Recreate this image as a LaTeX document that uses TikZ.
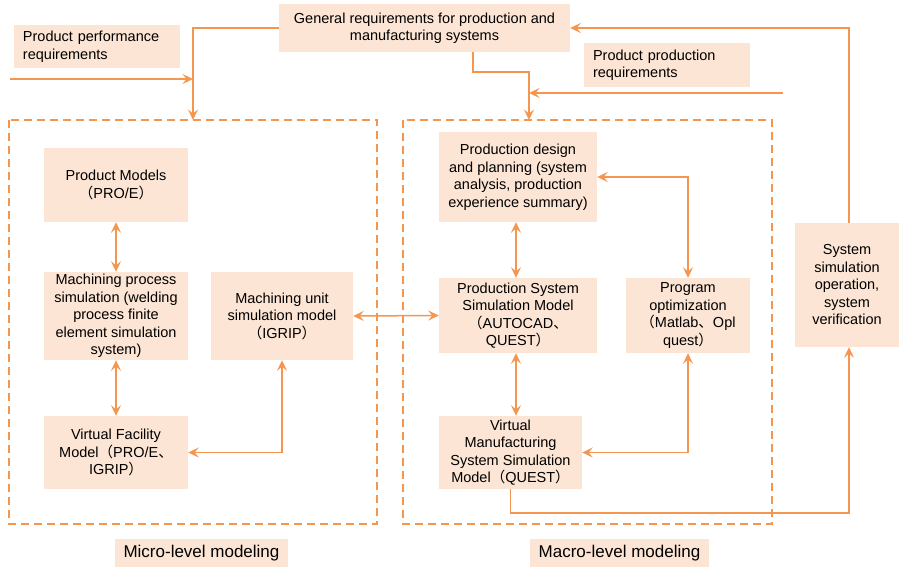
\documentclass[tikz,border=0pt]{standalone}
\usepackage{fontspec}
\setmainfont{Liberation Sans}
\newfontfamily\cjk{Noto Sans CJK SC}
\newcommand{\lp}{{\cjk （}}
\newcommand{\rp}{{\cjk ）}}
\newcommand{\dun}{{\cjk 、}}
\usetikzlibrary{arrows.meta}
\definecolor{lineor}{RGB}{245,150,80}
\definecolor{boxfill}{RGB}{252,229,212}
\tikzset{
  box/.style={fill=boxfill, inner sep=0pt, align=center, font=\fontsize{14.5}{17.5}\selectfont},
  lbox/.style={fill=boxfill, inner xsep=9pt, inner ysep=0pt, align=left, font=\fontsize{14.5}{17.5}\selectfont},
  labbox/.style={fill=boxfill, inner sep=0pt, align=center, font=\fontsize{17}{20}\selectfont},
  tip/.tip={Stealth[length=10.5pt,width=10pt,inset=4pt]},
  conn/.style={draw=lineor, line width=1.5pt, arrows={-tip}},
  biconn/.style={draw=lineor, line width=1.5pt, arrows={tip-tip}},
  dbox/.style={draw=lineor, line width=1.6pt, dash pattern=on 8pt off 5pt}
}
\begin{document}
\begin{tikzpicture}[x=1pt,y=-1pt]
\useasboundingbox (0,0) rectangle (899,568);
% dashed groups
\draw[dbox] (9,120) rectangle (377,524);
\draw[dbox] (403,120) rectangle (772,524);
% top boxes
\node[box, minimum width=291pt, minimum height=48pt] (gen) at (424.5,28) {General requirements for production and\\manufacturing systems};
\node[lbox, text width=148pt, minimum height=43pt] (perf) at (97,46.5) {Product performance\\requirements};
\node[lbox, text width=148pt, minimum height=44pt] (preq) at (667,65) {Product production\\requirements};
% left group
\node[box, minimum width=144pt, minimum height=74pt] (pm) at (116,185) {Product Models\\\lp PRO/E\rp};
\node[box, minimum width=144pt, minimum height=88pt] (mps) at (116,316) {Machining process\\simulation (welding\\process finite\\element simulation\\system)};
\node[box, minimum width=142pt, minimum height=88pt] (mu) at (282,316) {Machining unit\\simulation model\\\lp IGRIP\rp};
\node[box, minimum width=144pt, minimum height=73pt] (vf) at (116,452.5) {Virtual Facility\\Model\lp PRO/E\dun\\IGRIP\rp};
% right group
\node[box, minimum width=158pt, minimum height=90pt] (pd) at (518,177) {Production design\\and planning (system\\analysis, production\\experience summary)};
\node[box, minimum width=158pt, minimum height=75pt] (pss) at (518,315.5) {Production System\\Simulation Model\\\lp AUTOCAD\dun\\QUEST\rp};
\node[box, minimum width=124pt, minimum height=75pt] (po) at (688,315.5) {Program\\optimization\\\lp Matlab\dun Opl\\quest\rp};
\node[box, minimum width=143pt, minimum height=73pt] (vm) at (510.5,452.5) {Virtual\\Manufacturing\\System Simulation\\Model\lp QUEST\rp};
\node[box, minimum width=104pt, minimum height=124pt] (sim) at (847,285) {System\\simulation\\operation,\\system\\verification};
% labels
\node[labbox, minimum width=173pt, minimum height=28pt] (micro) at (201.5,553) {Micro-level modeling};
\node[labbox, minimum width=179pt, minimum height=28pt] (macro) at (619.5,553) {Macro-level modeling};
% coordinates
\coordinate (ltop) at (193,120);
\coordinate (rtop) at (529,120);
\coordinate (pin) at (10,79);
\coordinate (prin) at (783,93);
% connectors
\draw[conn] (pin) -- (pin -| ltop);
\draw[conn] (gen.west) -| (ltop);
\draw[conn] ([xshift=48.5pt]gen.south) -- ++(0,20) -| (rtop);
\draw[conn] (prin) -- (prin -| rtop);
\draw[conn] ([xshift=2pt]sim.north) |- (gen.east);
\draw[conn] (vm.south) -- ++(0,24) -| ([xshift=2pt]sim.south);
\draw[biconn] (pm.south) -- (mps.north);
\draw[biconn] (mps.south) -- (vf.north);
\draw[biconn] (vf.east) -| (mu.south);
\draw[biconn] (mu.east) -- (pss.west);
\draw[biconn] ([xshift=-2pt]pd.south) -- ([xshift=-2pt]pss.north);
\draw[biconn] ([xshift=-2pt]pss.south) -- ([xshift=-2pt]pss.south |- vm.north);
\draw[biconn] (pd.east) -| (po.north);
\draw[biconn] (po.south) |- (vm.east);
\end{tikzpicture}
\end{document}
